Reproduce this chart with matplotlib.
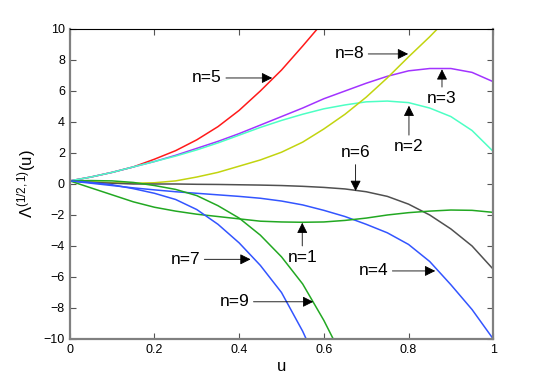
import numpy as np
import matplotlib
matplotlib.use("Agg")
import matplotlib.pyplot as plt

plt.rcParams['font.family'] = ['Liberation Sans', 'DejaVu Sans']
plt.rcParams['mathtext.fontset'] = 'custom'
plt.rcParams['mathtext.rm'] = 'Liberation Sans'
plt.rcParams['mathtext.it'] = 'Liberation Sans:italic'
plt.rcParams['mathtext.bf'] = 'Liberation Sans:bold'

u = [0.0, 0.05, 0.1, 0.15, 0.2, 0.25, 0.3, 0.35, 0.4, 0.45, 0.5,
     0.55, 0.6, 0.65, 0.7, 0.75, 0.8, 0.85, 0.9, 0.95, 1.0]

n1 = [0.2, -0.25, -0.7, -1.15, -1.5, -1.75, -1.95, -2.1, -2.25, -2.4, -2.45,
      -2.47, -2.45, -2.35, -2.2, -2.0, -1.85, -1.75, -1.68, -1.7, -1.83]
n2 = [0.2, 0.45, 0.75, 1.1, 1.45, 1.8, 2.2, 2.65, 3.15, 3.65, 4.1,
      4.5, 4.85, 5.1, 5.3, 5.35, 5.25, 4.9, 4.35, 3.45, 2.1]
n3 = [0.2, 0.45, 0.75, 1.1, 1.45, 1.85, 2.3, 2.75, 3.25, 3.8, 4.35,
      4.9, 5.5, 6.0, 6.5, 6.95, 7.3, 7.45, 7.45, 7.2, 6.6]
n4 = [0.2, 0.05, -0.1, -0.25, -0.38, -0.5, -0.6, -0.7, -0.8, -0.92, -1.1,
      -1.35, -1.7, -2.1, -2.6, -3.15, -3.9, -5.0, -6.5, -8.1, -10.0]
n5 = [0.2, 0.45, 0.75, 1.1, 1.6, 2.15, 2.85, 3.7, 4.75, 6.0, 7.35,
      8.9, 10.5]
n6 = [0.2, 0.1, 0.05, 0.0, 0.0, 0.0, -0.02, -0.03, -0.05, -0.07, -0.1,
      -0.15, -0.22, -0.32, -0.5, -0.8, -1.3, -2.0, -2.9, -4.0, -5.5]
n7 = [0.2, 0.1, -0.05, -0.3, -0.6, -1.0, -1.65, -2.6, -3.8, -5.25, -7.0,
      -9.5, -12.5]
n8 = [0.2, 0.15, 0.08, 0.05, 0.08, 0.2, 0.45, 0.75, 1.15, 1.55, 2.05,
      2.7, 3.55, 4.5, 5.6, 6.85, 8.2, 9.5, 10.9]
n9 = [0.2, 0.22, 0.2, 0.1, -0.1, -0.35, -0.75, -1.4, -2.2, -3.3, -4.7,
      -6.45, -8.8, -11.5]

series = [
    (n5, '#ff1a1a'),
    (n3, '#a233ff'),
    (n2, '#4dffc4'),
    (n8, '#c2d40f'),
    (n6, '#505050'),
    (n4, '#3355ff'),
    (n1, '#22a822'),
    (n9, '#22a822'),
    (n7, '#3355ff'),
]

fig = plt.figure(figsize=(5.45, 3.82), dpi=100)
ax = fig.add_axes([0.128, 0.1126, 0.777, 0.8115])

for vals, col in series:
    ax.plot(u[:len(vals)], vals, color=col, lw=1.1)

ax.set_xlim(0, 1)
ax.set_ylim(-10, 10)
ax.set_xticks([0, 0.2, 0.4, 0.6, 0.8, 1])
ax.set_xticklabels(['0', '0.2', '0.4', '0.6', '0.8', '1'])
ax.set_yticks(range(-10, 11, 2))
ax.set_yticklabels(['\u221210', '\u22128', '\u22126', '\u22124', '\u22122', '0', '2', '4', '6', '8', '10'])
ax.tick_params(direction='in', length=4, labelsize=9, top=True, right=True, width=0.8, colors='#555555', labelcolor='black')
for s in ['left', 'bottom', 'right']:
    ax.spines[s].set_color('#808080')
    ax.spines[s].set_linewidth(1.6)
ax.spines['top'].set_color('black')
ax.spines['top'].set_linewidth(0.8)

ax.set_xlabel('u', fontsize=12, labelpad=2)
ax.set_ylabel(r'$\mathregular{\Lambda^{(1/2,1)}}$(u)', fontsize=12, labelpad=4)

ap = dict(arrowstyle='-|>', color='black', lw=0.6, mutation_scale=16,
          shrinkA=1, shrinkB=0)
fs = 12.5
# horizontal arrows (text left of tip)
ax.annotate('n=5', xy=(0.478, 6.84), xytext=(0.359, 6.84), ha='right', va='center', fontsize=fs, arrowprops=ap)
ax.annotate('n=8', xy=(0.799, 8.39), xytext=(0.695, 8.39), ha='right', va='center', fontsize=fs, arrowprops=ap)
ax.annotate('n=4', xy=(0.863, -5.61), xytext=(0.752, -5.61), ha='right', va='center', fontsize=fs, arrowprops=ap)
ax.annotate('n=7', xy=(0.427, -4.86), xytext=(0.308, -4.86), ha='right', va='center', fontsize=fs, arrowprops=ap)
ax.annotate('n=9', xy=(0.575, -7.6), xytext=(0.424, -7.6), ha='right', va='center', fontsize=fs, arrowprops=ap)
# vertical arrows
ax.annotate('n=3', xy=(0.879, 7.4), xytext=(0.879, 5.5), ha='center', va='center', fontsize=fs, arrowprops=ap)
ax.annotate('n=2', xy=(0.801, 5.05), xytext=(0.801, 2.4), ha='center', va='center', fontsize=fs, arrowprops=ap)
ax.annotate('n=1', xy=(0.549, -2.5), xytext=(0.549, -4.75), ha='center', va='center', fontsize=fs, arrowprops=ap)
ax.annotate('n=6', xy=(0.675, -0.45), xytext=(0.675, 2.0), ha='center', va='center', fontsize=fs, arrowprops=ap)

fig.savefig('out.png', dpi=100)
